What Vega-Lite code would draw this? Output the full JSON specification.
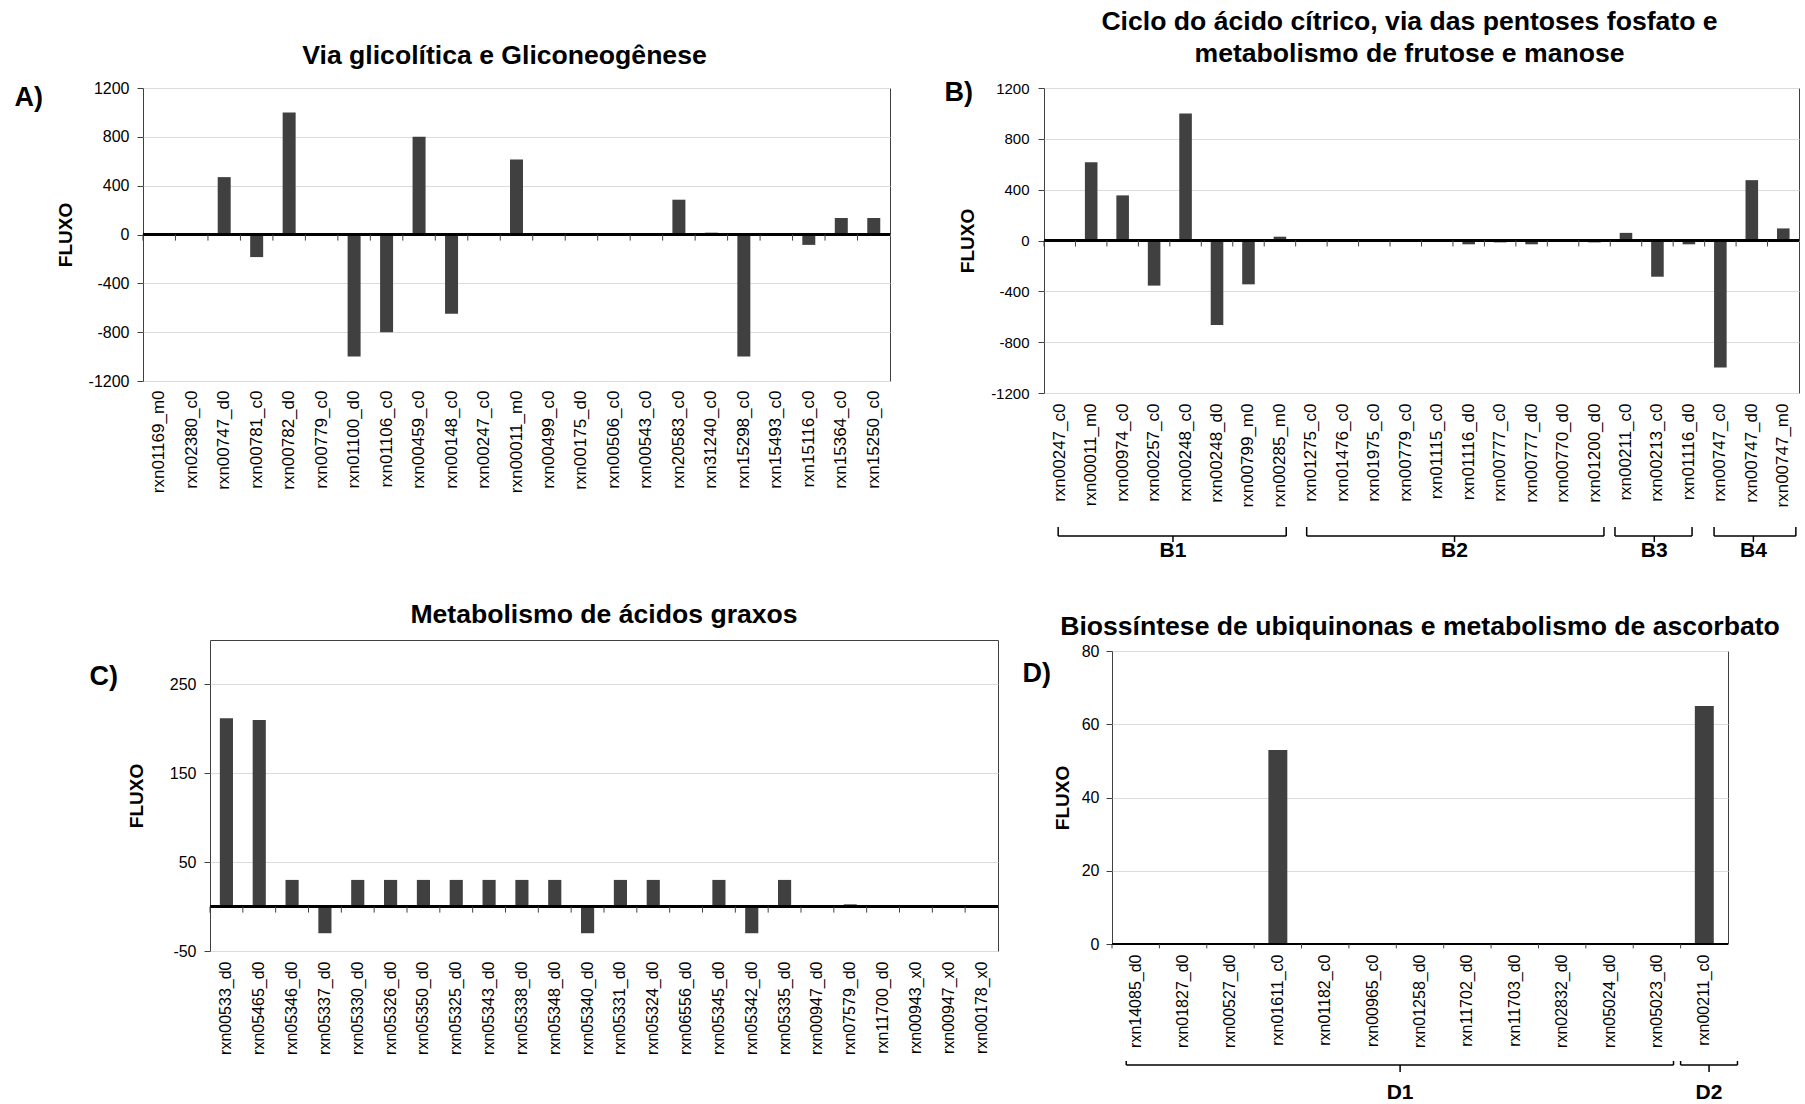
{
  "$schema": "https://vega.github.io/schema/vega-lite/v6.json",
  "padding": {"left": 13, "top": 8, "right": 2, "bottom": 2},
  "spacing": 40,
  "config": {
    "font": "Liberation Sans",
    "view": {"stroke": "#404040", "strokeWidth": 1},
    "axis": {"labelFont": "Liberation Sans", "titleFont": "Liberation Sans", "labelColor": "#000", "titleColor": "#000", "gridColor": "#dcdcdc", "tickColor": "#404040", "tickSize": 6, "labelPadding": 8, "domain": false},
    "axisY": {"labelExpr": "'' + datum.value"},
    "title": {"font": "Liberation Sans", "fontSize": 26.6, "fontWeight": "bold", "color": "#000", "frame": "group", "anchor": "middle"}
  },
  "vconcat": [
    {
      "hconcat": [
        {
          "width": 747, "height": 293,
          "title": {"text": "Via glicolítica e Gliconeogênese", "offset": 10, "dx": -12},
          "data": {"values": [
            {"rxn": "rxn01169_m0", "flux": 0},
            {"rxn": "rxn02380_c0", "flux": 0},
            {"rxn": "rxn00747_d0", "flux": 470},
            {"rxn": "rxn00781_c0", "flux": -185},
            {"rxn": "rxn00782_d0", "flux": 1000},
            {"rxn": "rxn00779_c0", "flux": 0},
            {"rxn": "rxn01100_d0", "flux": -1000},
            {"rxn": "rxn01106_c0", "flux": -800},
            {"rxn": "rxn00459_c0", "flux": 800},
            {"rxn": "rxn00148_c0", "flux": -650},
            {"rxn": "rxn00247_c0", "flux": 0},
            {"rxn": "rxn00011_m0", "flux": 615},
            {"rxn": "rxn00499_c0", "flux": 0},
            {"rxn": "rxn00175_d0", "flux": 10},
            {"rxn": "rxn00506_c0", "flux": 0},
            {"rxn": "rxn00543_c0", "flux": 0},
            {"rxn": "rxn20583_c0", "flux": 285},
            {"rxn": "rxn31240_c0", "flux": 15},
            {"rxn": "rxn15298_c0", "flux": -1000},
            {"rxn": "rxn15493_c0", "flux": 0},
            {"rxn": "rxn15116_c0", "flux": -85},
            {"rxn": "rxn15364_c0", "flux": 135},
            {"rxn": "rxn15250_c0", "flux": 135}
          ]},
          "resolve": {"axis": {"y": "independent"}},
          "layer": [
            {
              "mark": {"type": "bar", "color": "#404040"},
              "encoding": {
                "x": {"field": "rxn", "type": "nominal", "sort": null, "title": null, "scale": {"paddingInner": 0.6, "paddingOuter": 0.3},
                      "axis": {"title": null, "labelAngle": 270, "labelFontSize": 17, "labelPadding": 9, "ticks": false, "domain": false}},
                "y": {"field": "flux", "type": "quantitative", "scale": {"domain": [-1200, 1200], "nice": false},
                      "axis": {"title": "FLUXO", "values": [-1200, -800, -400, 0, 400, 800, 1200], "labelFontSize": 16, "titleFontSize": 19, "titleFontWeight": "bold", "titlePadding": 13, "grid": true}}
              }
            },
            {
              "mark": {"type": "rule", "color": "#000", "strokeWidth": 1.5},
              "encoding": {
                "y": {"datum": 0, "axis": {"orient": "left", "title": "A)", "labels": false, "ticks": false, "grid": false, "domain": false, "titleAngle": 0, "titleX": -129, "titleY": 9, "titleAlign": "left", "titleBaseline": "middle", "titleFontSize": 27, "titleFontWeight": "bold"}}
              }
            },
            {
              "mark": {"type": "rule", "color": "#404040"},
              "encoding": {
                "x": {"field": "rxn", "type": "nominal", "sort": null, "title": null, "bandPosition": -0.75},
                "y": {"datum": 0, "axis": null},
                "y2": {"datum": -50}
              }
            }
          ]
        },
        {
          "vconcat": [
            {
              "width": 755, "height": 305,
              "title": {"text": ["Ciclo do ácido cítrico, via das pentoses fosfato e", "metabolismo de frutose e manose"], "lineHeight": 32, "offset": 10, "dx": -12},
              "data": {"values": [
                {"rxn": "rxn00247_c0", "flux": 0},
                {"rxn": "rxn00011_m0", "flux": 615},
                {"rxn": "rxn00974_c0", "flux": 355},
                {"rxn": "rxn00257_c0", "flux": -355},
                {"rxn": "rxn00248_c0", "flux": 1000},
                {"rxn": "rxn00248_d0", "flux": -665},
                {"rxn": "rxn00799_m0", "flux": -345},
                {"rxn": "rxn00285_m0", "flux": 30},
                {"rxn": "rxn01275_c0", "flux": 0},
                {"rxn": "rxn01476_c0", "flux": 5},
                {"rxn": "rxn01975_c0", "flux": 5},
                {"rxn": "rxn00779_c0", "flux": 0},
                {"rxn": "rxn01115_c0", "flux": 5},
                {"rxn": "rxn01116_d0", "flux": -30},
                {"rxn": "rxn00777_c0", "flux": -15},
                {"rxn": "rxn00777_d0", "flux": -30},
                {"rxn": "rxn00770_d0", "flux": 5},
                {"rxn": "rxn01200_d0", "flux": -15},
                {"rxn": "rxn00211_c0", "flux": 60},
                {"rxn": "rxn00213_c0", "flux": -285},
                {"rxn": "rxn01116_d0#2", "flux": -30},
                {"rxn": "rxn00747_c0", "flux": -1000},
                {"rxn": "rxn00747_d0", "flux": 475},
                {"rxn": "rxn00747_m0", "flux": 95}
              ]},
              "resolve": {"axis": {"y": "independent"}},
              "layer": [
                {
                  "mark": {"type": "bar", "color": "#404040"},
                  "encoding": {
                    "x": {"field": "rxn", "type": "nominal", "sort": null, "title": null, "scale": {"paddingInner": 0.6, "paddingOuter": 0.3},
                          "axis": {"title": null, "labelAngle": 270, "labelFontSize": 17, "labelPadding": 10, "ticks": false, "domain": false, "labelExpr": "split(datum.label, '#')[0]"}},
                    "y": {"field": "flux", "type": "quantitative", "scale": {"domain": [-1200, 1200], "nice": false},
                          "axis": {"title": "FLUXO", "values": [-1200, -800, -400, 0, 400, 800, 1200], "labelFontSize": 15, "labelPadding": 9, "titleFontSize": 19, "titleFontWeight": "bold", "titlePadding": 13, "grid": true}}
                  }
                },
                {
                  "mark": {"type": "rule", "color": "#000", "strokeWidth": 1.5},
                  "encoding": {
                    "y": {"datum": 0, "axis": {"orient": "left", "title": "B)", "labels": false, "ticks": false, "grid": false, "domain": false, "titleAngle": 0, "titleX": -100, "titleY": 4, "titleAlign": "left", "titleBaseline": "middle", "titleFontSize": 27, "titleFontWeight": "bold"}}
                  }
                },
                {
                  "mark": {"type": "rule", "color": "#404040"},
                  "encoding": {
                    "x": {"field": "rxn", "type": "nominal", "sort": null, "title": null, "bandPosition": -0.75},
                    "y": {"datum": 0, "axis": null},
                    "y2": {"datum": -47}
                  }
                }
              ]
            },
            {
              "width": 755, "height": 36,
              "view": {"stroke": null},
              "data": {"values": [
                {"g": "B1", "a": 0.45, "b": 7.7, "m": 4.1},
                {"g": "B2", "a": 8.35, "b": 17.8, "m": 13.05},
                {"g": "B3", "a": 18.15, "b": 20.6, "m": 19.4},
                {"g": "B4", "a": 21.3, "b": 23.9, "m": 22.55}
              ]},
              "layer": [
                {
                  "mark": {"type": "rule", "color": "#000", "strokeWidth": 1.5},
                  "encoding": {
                    "x": {"field": "a", "type": "quantitative", "scale": {"domain": [0, 24], "nice": false, "zero": false}, "axis": null},
                    "x2": {"field": "b"},
                    "y": {"datum": 25, "scale": {"domain": [0, 36], "nice": false}, "axis": null}
                  }
                },
                {
                  "mark": {"type": "rule", "color": "#000", "strokeWidth": 1.5},
                  "encoding": {"x": {"field": "a", "type": "quantitative"}, "y": {"datum": 25}, "y2": {"datum": 34}}
                },
                {
                  "mark": {"type": "rule", "color": "#000", "strokeWidth": 1.5},
                  "encoding": {"x": {"field": "b", "type": "quantitative"}, "y": {"datum": 25}, "y2": {"datum": 34}}
                },
                {
                  "mark": {"type": "rule", "color": "#000", "strokeWidth": 1.5},
                  "encoding": {"x": {"field": "m", "type": "quantitative"}, "y": {"datum": 25}, "y2": {"datum": 19}}
                },
                {
                  "mark": {"type": "text", "fontSize": 21, "fontWeight": "bold", "baseline": "middle", "color": "#000"},
                  "encoding": {"x": {"field": "m", "type": "quantitative"}, "y": {"datum": 10}, "text": {"field": "g"}}
                }
              ]
            }
          ],
          "bounds": "flush",
          "spacing": 132
        }
      ],
      "spacing": 51
    },
    {
      "hconcat": [
        {
          "hconcat": [
            {
              "width": 67, "height": 1,
              "view": {"stroke": null},
              "data": {"values": []},
              "mark": "rule",
              "encoding": {}
            },
            {
              "width": 788, "height": 311,
              "title": {"text": "Metabolismo de ácidos graxos", "offset": 11.5},
              "data": {"values": [
                {"rxn": "rxn00533_d0", "flux": 212},
                {"rxn": "rxn05465_d0", "flux": 210},
                {"rxn": "rxn05346_d0", "flux": 30},
                {"rxn": "rxn05337_d0", "flux": -30},
                {"rxn": "rxn05330_d0", "flux": 30},
                {"rxn": "rxn05326_d0", "flux": 30},
                {"rxn": "rxn05350_d0", "flux": 30},
                {"rxn": "rxn05325_d0", "flux": 30},
                {"rxn": "rxn05343_d0", "flux": 30},
                {"rxn": "rxn05338_d0", "flux": 30},
                {"rxn": "rxn05348_d0", "flux": 30},
                {"rxn": "rxn05340_d0", "flux": -30},
                {"rxn": "rxn05331_d0", "flux": 30},
                {"rxn": "rxn05324_d0", "flux": 30},
                {"rxn": "rxn06556_d0", "flux": 0},
                {"rxn": "rxn05345_d0", "flux": 30},
                {"rxn": "rxn05342_d0", "flux": -30},
                {"rxn": "rxn05335_d0", "flux": 30},
                {"rxn": "rxn00947_d0", "flux": 0},
                {"rxn": "rxn07579_d0", "flux": 2.5},
                {"rxn": "rxn11700_d0", "flux": 1},
                {"rxn": "rxn00943_x0", "flux": 0},
                {"rxn": "rxn00947_x0", "flux": 0},
                {"rxn": "rxn00178_x0", "flux": 0}
              ]},
              "resolve": {"axis": {"y": "independent"}},
              "layer": [
                {
                  "mark": {"type": "bar", "color": "#404040"},
                  "encoding": {
                    "x": {"field": "rxn", "type": "nominal", "sort": null, "title": null, "scale": {"paddingInner": 0.6, "paddingOuter": 0.3},
                          "axis": {"title": null, "labelAngle": 270, "labelFontSize": 16, "labelPadding": 10, "ticks": false, "domain": false}},
                    "y": {"field": "flux", "type": "quantitative", "scale": {"domain": [-50, 300], "nice": false, "zero": false},
                          "axis": {"title": "FLUXO", "values": [-50, 50, 150, 250], "labelFontSize": 16, "titleFontSize": 19, "titleFontWeight": "bold", "titlePadding": 23, "grid": true}}
                  }
                },
                {
                  "mark": {"type": "rule", "color": "#000", "strokeWidth": 1.5},
                  "encoding": {
                    "y": {"datum": 0, "axis": {"orient": "left", "title": "C)", "labels": false, "ticks": false, "grid": false, "domain": false, "titleAngle": 0, "titleX": -121, "titleY": 36, "titleAlign": "left", "titleBaseline": "middle", "titleFontSize": 27, "titleFontWeight": "bold"}}
                  }
                },
                {
                  "mark": {"type": "rule", "color": "#404040"},
                  "encoding": {
                    "x": {"field": "rxn", "type": "nominal", "sort": null, "title": null, "bandPosition": -0.75},
                    "y": {"datum": 0, "axis": null},
                    "y2": {"datum": -6.8}
                  }
                }
              ]
            }
          ],
          "bounds": "flush",
          "spacing": 0
        },
        {
          "vconcat": [
            {
              "width": 1, "height": 11,
              "view": {"stroke": null},
              "data": {"values": []},
              "mark": "rule",
              "encoding": {}
            },
            {
              "width": 616, "height": 293,
              "title": {"text": "Biossíntese de ubiquinonas e metabolismo de ascorbato", "offset": 2},
              "data": {"values": [
                {"rxn": "rxn14085_d0", "flux": 0},
                {"rxn": "rxn01827_d0", "flux": 0},
                {"rxn": "rxn00527_d0", "flux": 0},
                {"rxn": "rxn01611_c0", "flux": 53},
                {"rxn": "rxn01182_c0", "flux": 0},
                {"rxn": "rxn00965_c0", "flux": 0},
                {"rxn": "rxn01258_d0", "flux": 0},
                {"rxn": "rxn11702_d0", "flux": 0},
                {"rxn": "rxn11703_d0", "flux": 0},
                {"rxn": "rxn02832_d0", "flux": 0},
                {"rxn": "rxn05024_d0", "flux": 0},
                {"rxn": "rxn05023_d0", "flux": 0},
                {"rxn": "rxn00211_c0", "flux": 65}
              ]},
              "resolve": {"axis": {"y": "independent"}},
              "layer": [
                {
                  "mark": {"type": "bar", "color": "#404040"},
                  "encoding": {
                    "x": {"field": "rxn", "type": "nominal", "sort": null, "title": null, "scale": {"paddingInner": 0.6, "paddingOuter": 0.3},
                          "axis": {"title": null, "labelAngle": 270, "labelFontSize": 16, "labelPadding": 10, "ticks": false, "domain": false}},
                    "y": {"field": "flux", "type": "quantitative", "scale": {"domain": [0, 80], "nice": false},
                          "axis": {"title": "FLUXO", "values": [0, 20, 40, 60, 80], "labelFontSize": 16, "labelPadding": 7, "titleFontSize": 19, "titleFontWeight": "bold", "titlePadding": 9, "grid": true}}
                  }
                },
                {
                  "mark": {"type": "rule", "color": "#000", "strokeWidth": 1.5},
                  "encoding": {
                    "y": {"datum": 0, "axis": {"orient": "left", "title": "D)", "labels": false, "ticks": false, "grid": false, "domain": false, "titleAngle": 0, "titleX": -90, "titleY": 22, "titleAlign": "left", "titleBaseline": "middle", "titleFontSize": 27, "titleFontWeight": "bold"}}
                  }
                },
                {
                  "mark": {"type": "rule", "color": "#404040"},
                  "encoding": {
                    "x": {"field": "rxn", "type": "nominal", "sort": null, "title": null, "bandPosition": -0.75},
                    "y": {"datum": 0, "axis": null},
                    "y2": {"datum": -1.2}
                  }
                }
              ]
            },
            {
              "width": 616, "height": 158,
              "view": {"stroke": null},
              "data": {"values": [
                {"g": "D1", "a": 0.3, "b": 11.85, "m": 6.08},
                {"g": "D2", "a": 12.0, "b": 13.2, "m": 12.6}
              ]},
              "layer": [
                {
                  "mark": {"type": "rule", "color": "#000", "strokeWidth": 1.5},
                  "encoding": {
                    "x": {"field": "a", "type": "quantitative", "scale": {"domain": [0, 13], "nice": false, "zero": false}, "axis": null},
                    "x2": {"field": "b"},
                    "y": {"datum": 37, "scale": {"domain": [0, 158], "nice": false}, "axis": null}
                  }
                },
                {
                  "mark": {"type": "rule", "color": "#000", "strokeWidth": 1.5},
                  "encoding": {"x": {"field": "a", "type": "quantitative"}, "y": {"datum": 37}, "y2": {"datum": 41}}
                },
                {
                  "mark": {"type": "rule", "color": "#000", "strokeWidth": 1.5},
                  "encoding": {"x": {"field": "b", "type": "quantitative"}, "y": {"datum": 37}, "y2": {"datum": 41}}
                },
                {
                  "mark": {"type": "rule", "color": "#000", "strokeWidth": 1.5},
                  "encoding": {"x": {"field": "m", "type": "quantitative"}, "y": {"datum": 37}, "y2": {"datum": 30}}
                },
                {
                  "mark": {"type": "text", "fontSize": 21, "fontWeight": "bold", "baseline": "middle", "color": "#000"},
                  "encoding": {"x": {"field": "m", "type": "quantitative"}, "y": {"datum": 9}, "text": {"field": "g"}}
                }
              ]
            }
          ],
          "bounds": "flush",
          "spacing": 0
        }
      ],
      "spacing": 21
    }
  ]
}
